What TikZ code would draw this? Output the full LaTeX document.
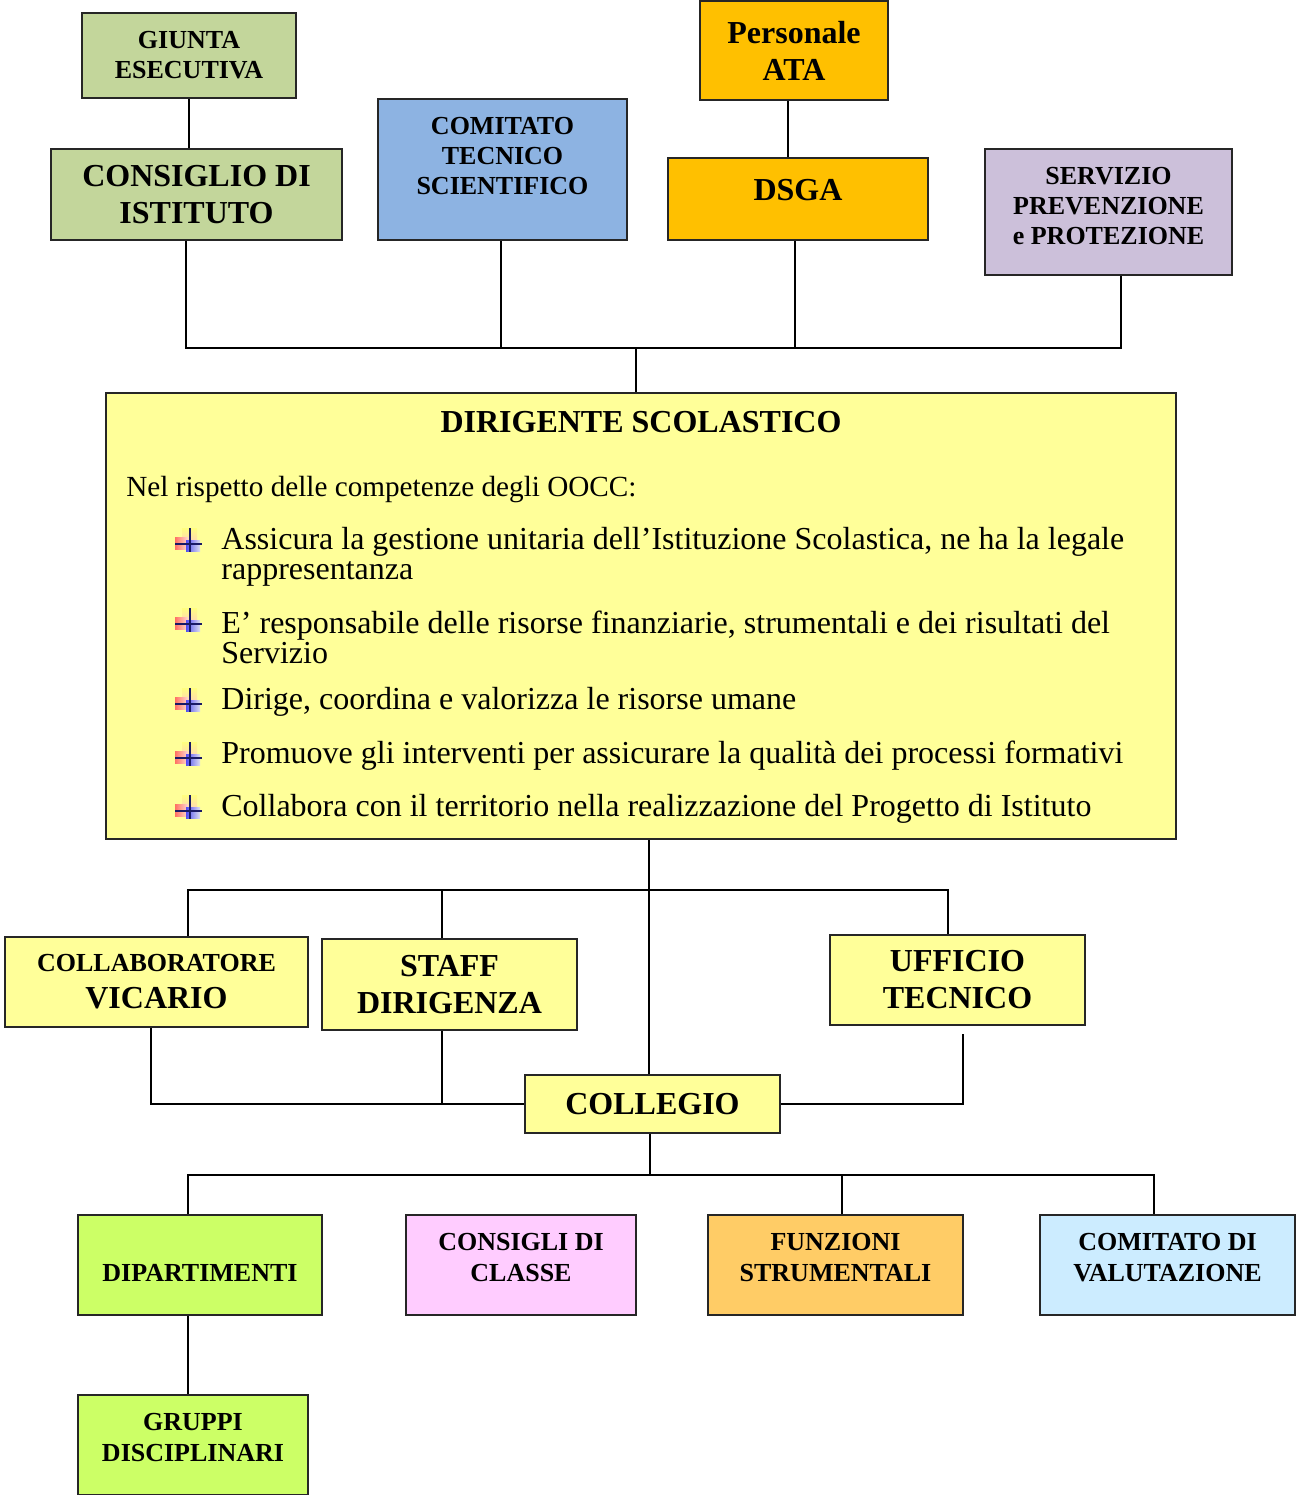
\documentclass[tikz,border=0pt]{standalone}
\usepackage{fontspec}
\setmainfont{Liberation Serif}

\definecolor{giuntagreen}{HTML}{C3D69B}
\definecolor{ctsblue}{HTML}{8DB3E2}
\definecolor{ataorange}{HTML}{FFC000}
\definecolor{spplilac}{HTML}{CCC0DA}
\definecolor{dsyellow}{HTML}{FFFF99}
\definecolor{dipgreen}{HTML}{CCFF66}
\definecolor{cdcpink}{HTML}{FFCCFF}
\definecolor{fsorange}{HTML}{FFCC66}
\definecolor{cdvblue}{HTML}{CCECFF}
\definecolor{navy}{HTML}{1A1A66}

\tikzstyle{unit}=[draw=black!85, line width=1pt, inner sep=0pt, align=center, font=\bfseries\fontsize{13}{15}\selectfont]
\tikzstyle{big unit}=[unit, font=\bfseries\fontsize{16}{18.5}\selectfont]
\tikzstyle{caption}=[inner sep=0pt, align=center, font=\bfseries\fontsize{13}{15.5}\selectfont]
\tikzstyle{link}=[draw, line width=0.9pt]
\tikzstyle{body}=[inner sep=0pt, anchor=west, align=left, font=\fontsize{14.6}{16}\selectfont]
\tikzstyle{item}=[body, font=\fontsize{16}{15}\selectfont]

\tikzset{bulletmark/.pic={
  \shade[top color=yellow!50, bottom color=orange!30] (-8,-16) rectangle (7,-3);
  \shade[left color=red!65, right color=red!15, opacity=.85] (-15,-7) rectangle (-2,5);
  \shade[left color=blue!80, right color=blue!15, opacity=.85] (-4,-4) rectangle (10,7);
  \draw[navy, line width=1.4pt] (0,-16) -- (0,8) (-15,0) -- (12,0);
}}

\begin{document}
\begin{tikzpicture}[x=0.5pt, y=-0.5pt]
  \useasboundingbox (0,0) rectangle (1296,1495);
  % upper units
  \node[unit, fill=giuntagreen, minimum width=107pt, minimum height=42.5pt] (giunta) at (189,55.5) {GIUNTA\\ESECUTIVA};
  \node[big unit, fill=giuntagreen, minimum width=145.5pt, minimum height=45.5pt] (consiglio) at (196.5,194.5) {CONSIGLIO DI\\ISTITUTO};
  \node[unit, fill=ctsblue, minimum width=124.5pt, minimum height=70.5pt,
    label={[caption, font=\bfseries\fontsize{13}{15}\selectfont, name=cts-t, yshift=6.75pt]center:COMITATO\\TECNICO\\SCIENTIFICO}] (cts) at (502.5,169.5) {};
  \node[big unit, fill=ataorange, minimum width=94pt, minimum height=49.5pt] (ata) at (794,50.5) {Personale\\ATA};
  \node[unit, fill=ataorange, minimum width=130pt, minimum height=41pt,
    label={[caption, font=\bfseries\fontsize{16}{18}\selectfont, name=dsga-t, yshift=4.5pt]center:DSGA}] (dsga) at (798,199) {};
  \node[unit, fill=spplilac, minimum width=123.5pt, minimum height=63pt,
    label={[caption, font=\bfseries\fontsize{13}{15}\selectfont, name=spp-t, yshift=2.75pt]center:SERVIZIO\\PREVENZIONE\\e PROTEZIONE}] (spp) at (1108.5,212) {};

  % dirigente
  \node[unit, fill=dsyellow, minimum width=535pt, minimum height=223pt] (ds) at (641,616) {};
  \node[inner sep=0pt, font=\bfseries\fontsize{16}{18}\selectfont] (ds-title) at (641,422) {DIRIGENTE SCOLASTICO};
  \node[body] (ds-intro) at (126,490) {Nel rispetto delle competenze degli OOCC:};
  \foreach \y/\name/\txt in {
    557/b1/{Assicura la gestione unitaria dell’Istituzione Scolastica, ne ha la legale\\rappresentanza},
    637/b2/{E’ responsabile delle risorse finanziarie, strumentali e dei risultati del\\Servizio},
    702/b3/{Dirige, coordina e valorizza le risorse umane},
    756/b4/{Promuove gli interventi per assicurare la qualità dei processi formativi},
    809/b5/{Collabora con il territorio nella realizzazione del Progetto di Istituto}}
    \node[item] (\name) at (221,\y) {\txt};
  \foreach \y in {544,624,704,758,811}
    \pic at (190,\y) {bulletmark};

  % middle units
  \node[big unit, fill=dsyellow, minimum width=151.5pt, minimum height=45pt] (vicario) at (156.5,982)
    {{\fontsize{13}{17}\selectfont COLLABORATORE}\\VICARIO};
  \node[big unit, fill=dsyellow, minimum width=127.5pt, minimum height=45.5pt] (staff) at (449.5,984.5) {STAFF\\DIRIGENZA};
  \node[big unit, fill=dsyellow, minimum width=127.5pt, minimum height=45pt] (ufficio) at (957.5,980) {UFFICIO\\TECNICO};
  \node[big unit, fill=dsyellow, minimum width=127.5pt, minimum height=29pt] (collegio) at (652.5,1104) {COLLEGIO};

  % lower units
  \node[unit, fill=dipgreen, minimum width=122pt, minimum height=50pt,
    label={[caption, name=dip-t, yshift=-4pt]center:DIPARTIMENTI}] (dip) at (200,1265) {};
  \node[unit, fill=cdcpink, minimum width=115pt, minimum height=50pt,
    label={[caption, name=cdc-t, yshift=3.75pt]center:CONSIGLI DI\\CLASSE}] (cdc) at (521,1265) {};
  \node[unit, fill=fsorange, minimum width=127.5pt, minimum height=50pt,
    label={[caption, name=funz-t, yshift=3.75pt]center:FUNZIONI\\STRUMENTALI}] (funz) at (835.5,1265) {};
  \node[unit, fill=cdvblue, minimum width=127.5pt, minimum height=50pt,
    label={[caption, name=comval-t, yshift=3.75pt]center:COMITATO DI\\VALUTAZIONE}] (comval) at (1167.5,1265) {};
  \node[unit, fill=dipgreen, minimum width=115pt, minimum height=50pt,
    label={[caption, name=gruppi-t, yshift=3.75pt]center:GRUPPI\\DISCIPLINARI}] (gruppi) at (193,1445) {};

  % connectors, top
  \coordinate (tbus) at (636,348);
  \path[link] (giunta.south) -- (giunta.south |- consiglio.north);
  \path[link] ([xshift=-1.5pt]giunta.south |- consiglio.south) -- ([xshift=-1.5pt]giunta.south |- tbus)
    -| ([xshift=6.25pt]spp.south);
  \path[link] ([xshift=-0.75pt]cts.south) -- ([xshift=-0.75pt]cts.south |- tbus);
  \path[link] ([xshift=-1.5pt]dsga.south) -- ([xshift=-1.5pt]dsga.south |- tbus);
  \path[link] ([xshift=-3pt]ata.south) -- ([xshift=-3pt]ata.south |- dsga.north);
  \path[link] (tbus) -- (tbus |- ds.north);

  % connectors, middle
  \coordinate (mbus) at (649,890);
  \path[link] (mbus |- ds.south) -- (mbus |- collegio.north);
  \path[link] ([xshift=15.75pt]vicario.north) |- (mbus) -| ([xshift=-4.75pt]ufficio.north);
  \path[link] ([xshift=-3.75pt]staff.north) -- ([xshift=-3.75pt]staff.north |- mbus);
  \path[link] ([xshift=-2.75pt]vicario.south) |- (collegio.west);
  \path[link] ([xshift=-3.75pt]staff.south) -- ([xshift=-3.75pt]staff.south |- collegio.west);
  \path[link] (collegio.east) -| ([xshift=2.75pt, yshift=-4pt]ufficio.south);

  % connectors, bottom
  \coordinate (bbus) at (650,1175);
  \path[link] ([xshift=-1.25pt]collegio.south) -- ([xshift=-1.25pt]collegio.south |- bbus);
  \path[link] ([xshift=-6pt]dip.north) |- (bbus) -| ([xshift=-6.75pt]comval.north);
  \path[link] ([xshift=3.25pt]funz.north) -- ([xshift=3.25pt]funz.north |- bbus);
  \path[link] ([xshift=-6pt]dip.south) -- ([xshift=-6pt]dip.south |- gruppi.north);
\end{tikzpicture}
\end{document}
